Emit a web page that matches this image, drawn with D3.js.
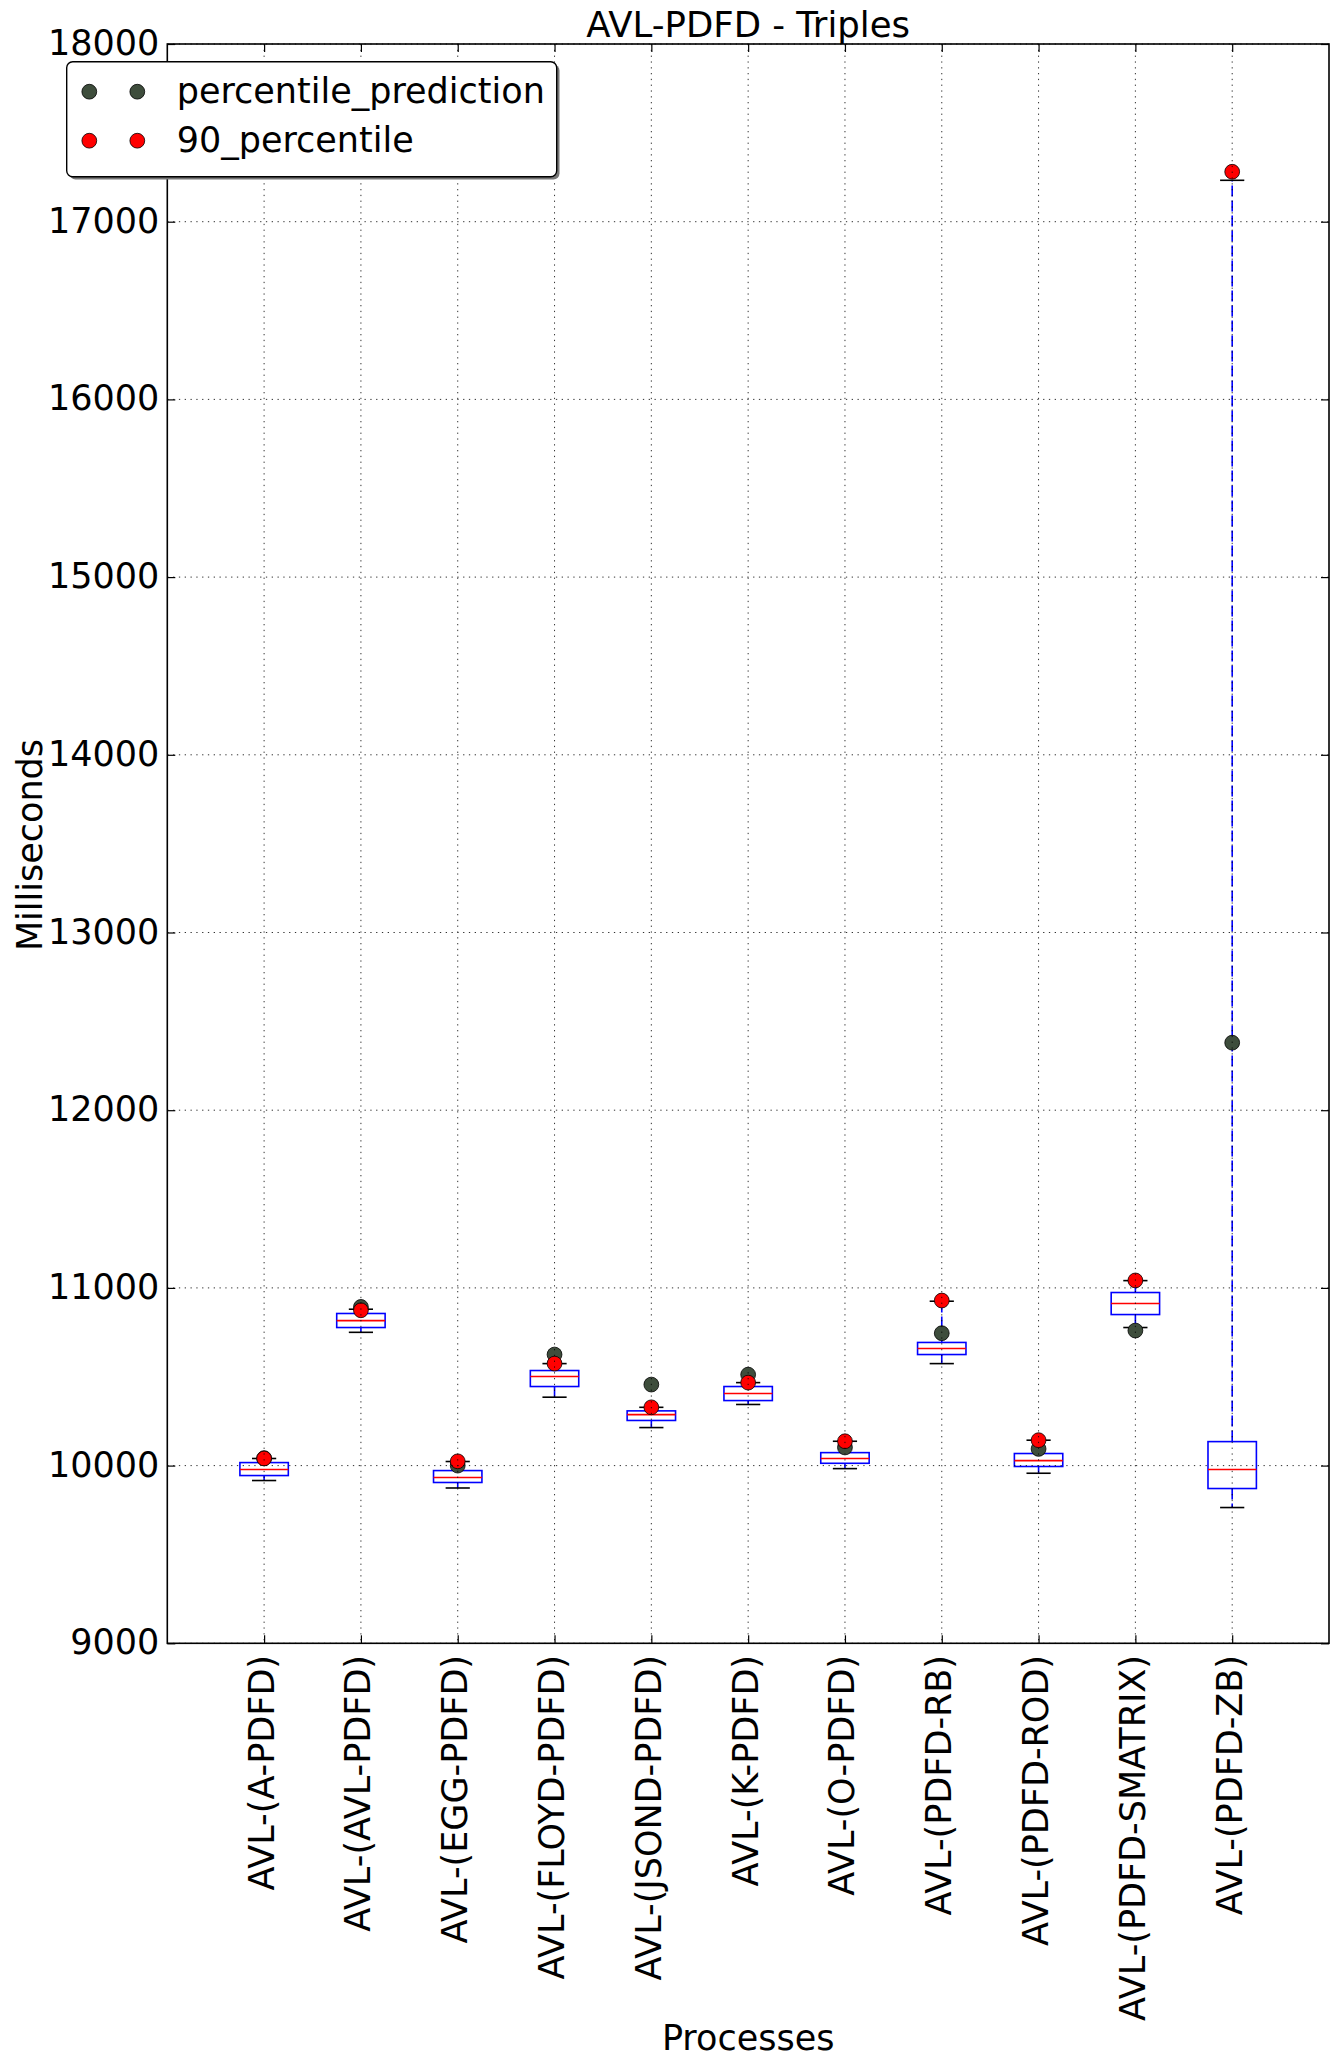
<!DOCTYPE html>
<html>
<head>
<meta charset="utf-8">
<script src="https://cdn.jsdelivr.net/npm/d3@7"></script>
<style>
  html, body { margin: 0; padding: 0; background: #fff; }
  svg { display: block; }
  text { font-family: "DejaVu Sans", sans-serif; fill: #000; }
</style>
</head>
<body>
<svg id="chart" width="1339" height="2068"></svg>
<script>
// ---- data ----
const categories = ["AVL-(A-PDFD)", "AVL-(AVL-PDFD)", "AVL-(EGG-PDFD)", "AVL-(FLOYD-PDFD)",
  "AVL-(JSOND-PDFD)", "AVL-(K-PDFD)", "AVL-(O-PDFD)", "AVL-(PDFD-RB)", "AVL-(PDFD-ROD)",
  "AVL-(PDFD-SMATRIX)", "AVL-(PDFD-ZB)"];
const whiskerLow  = [9916, 10750, 9874, 10385, 10214, 10344, 9983, 10574, 9957, 10777, 9764];
const q1          = [9944, 10777, 9905, 10445, 10254, 10366, 10013, 10625, 9995, 10850, 9871];
const median      = [9978, 10816, 9933, 10501, 10287, 10406, 10040, 10659, 10028, 10912, 9978];
const q3          = [10017, 10856, 9972, 10535, 10308, 10445, 10073, 10693, 10068, 10974, 10135];
const whiskerHigh = [10040, 10880, 10023, 10574, 10328, 10467, 10137, 10925, 10143, 11041, 17233];
const percentilePrediction = [10042, 10893, 10000, 10625, 10456, 10512, 10102, 10745, 10094, 10760, 12380];
const percentile90 = [10040, 10874, 10024, 10574, 10328, 10467, 10137, 10929, 10143, 11042, 17281];
const yTicks = [9000, 10000, 11000, 12000, 13000, 14000, 15000, 16000, 17000, 18000];
const seriesNames = ["percentile_prediction", "90_percentile"];
const seriesColors = ["#3e4d3c", "#ff0000"];

// ---- layout ----
const L = 167.3, R = 1329, T = 44, B = 1643.3;
const FS = 35;
const svg = d3.select("#chart");

const x = d3.scalePoint().domain(categories).range([L, R]).padding(1);
const y = d3.scaleLinear().domain([9000, 18000]).range([B, T]);

// boxes
const boxW = x.step() * 0.5;
const g = svg.append("g");
categories.forEach((c, i) => {
  const cx = x(c);
  g.append("line").attr("x1", cx).attr("x2", cx).attr("y1", y(q3[i])).attr("y2", y(whiskerHigh[i]))
    .attr("stroke", "#0000ff").attr("stroke-width", 1.6).attr("stroke-dasharray", "11,4");
  g.append("line").attr("x1", cx).attr("x2", cx).attr("y1", y(q1[i])).attr("y2", y(whiskerLow[i]))
    .attr("stroke", "#0000ff").attr("stroke-width", 1.6).attr("stroke-dasharray", "11,4");
  [whiskerLow[i], whiskerHigh[i]].forEach(v => {
    g.append("line").attr("x1", cx - boxW / 4).attr("x2", cx + boxW / 4).attr("y1", y(v)).attr("y2", y(v))
      .attr("stroke", "#000").attr("stroke-width", 1.6);
  });
  g.append("rect").attr("x", cx - boxW / 2).attr("y", y(q3[i])).attr("width", boxW)
    .attr("height", y(q1[i]) - y(q3[i])).attr("fill", "none").attr("stroke", "#0000ff").attr("stroke-width", 1.6);
  g.append("line").attr("x1", cx - boxW / 2).attr("x2", cx + boxW / 2).attr("y1", y(median[i])).attr("y2", y(median[i]))
    .attr("stroke", "#ff0000").attr("stroke-width", 1.6);
});

// points
[percentilePrediction, percentile90].forEach((arr, si) => {
  g.selectAll(null).data(arr).enter().append("circle")
    .attr("cx", (d, i) => x(categories[i])).attr("cy", d => y(d)).attr("r", 7.4)
    .attr("fill", seriesColors[si]).attr("stroke", "#000").attr("stroke-width", 0.8);
});

// grid (dotted, drawn above)
const grid = svg.append("g").attr("stroke", "#000").attr("stroke-width", 1).attr("stroke-dasharray", "1.3,4.5").attr("opacity", 0.8);
yTicks.forEach(v => grid.append("line").attr("x1", L).attr("x2", R).attr("y1", y(v)).attr("y2", y(v)));
categories.forEach(c => grid.append("line").attr("x1", x(c)).attr("x2", x(c)).attr("y1", T).attr("y2", B));

// axes
const axL = svg.append("g").attr("transform", `translate(${L},0)`)
  .call(d3.axisLeft(y).tickValues(yTicks).tickSize(-8).tickPadding(8).tickFormat(d3.format("d")));
const axR = svg.append("g").attr("transform", `translate(${R},0)`)
  .call(d3.axisRight(y).tickValues(yTicks).tickSize(-8).tickFormat(""));
const axB = svg.append("g").attr("transform", `translate(0,${B})`)
  .call(d3.axisBottom(x).tickSize(-8).tickFormat(""));
const axT = svg.append("g").attr("transform", `translate(0,${T})`)
  .call(d3.axisTop(x).tickSize(-8).tickFormat(""));
[axL, axR, axB, axT].forEach(a => {
  a.select(".domain").remove();
  a.selectAll(".tick line").attr("stroke", "#000").attr("stroke-width", 1.2);
});
axL.selectAll(".tick text").attr("font-size", FS).attr("font-family", "DejaVu Sans").attr("dy", "0.3em").attr("fill", "#000");

// frame
svg.append("rect").attr("x", L).attr("y", T).attr("width", R - L).attr("height", B - T)
  .attr("fill", "none").attr("stroke", "#000").attr("stroke-width", 1.6);

// x tick labels rotated
svg.append("g").selectAll("text").data(categories).enter().append("text")
  .attr("transform", d => `translate(${x(d)},1655) rotate(-90)`)
  .attr("text-anchor", "end").attr("dy", "0.27em").attr("font-size", FS).text(d => d);

// titles
svg.append("text").attr("x", (L + R) / 2).attr("y", 37).attr("text-anchor", "middle").attr("font-size", 35.5).text("AVL-PDFD - Triples");
svg.append("text").attr("x", (L + R) / 2).attr("y", 2050).attr("text-anchor", "middle").attr("font-size", FS).text("Processes");
svg.append("text").attr("transform", "translate(42,845) rotate(-90)").attr("text-anchor", "middle").attr("font-size", FS).text("Milliseconds");

// legend
const lg = svg.append("g");
lg.append("rect").attr("x", 69.5).attr("y", 64.5).attr("width", 490).attr("height", 115).attr("rx", 6)
  .attr("fill", "#777");
lg.append("rect").attr("x", 66.7).attr("y", 61.7).attr("width", 490).attr("height", 115).attr("rx", 6)
  .attr("fill", "#fff").attr("stroke", "#000").attr("stroke-width", 1.4);
seriesNames.forEach((name, i) => {
  const cy = [91.7, 140.7][i];
  [89.3, 137.3].forEach(cx => lg.append("circle").attr("cx", cx).attr("cy", cy).attr("r", 7.4)
    .attr("fill", seriesColors[i]).attr("stroke", "#000").attr("stroke-width", 0.8));
  lg.append("text").attr("x", 176.7).attr("y", cy + 11).attr("font-size", FS).text(name);
});
</script>
</body>
</html>
